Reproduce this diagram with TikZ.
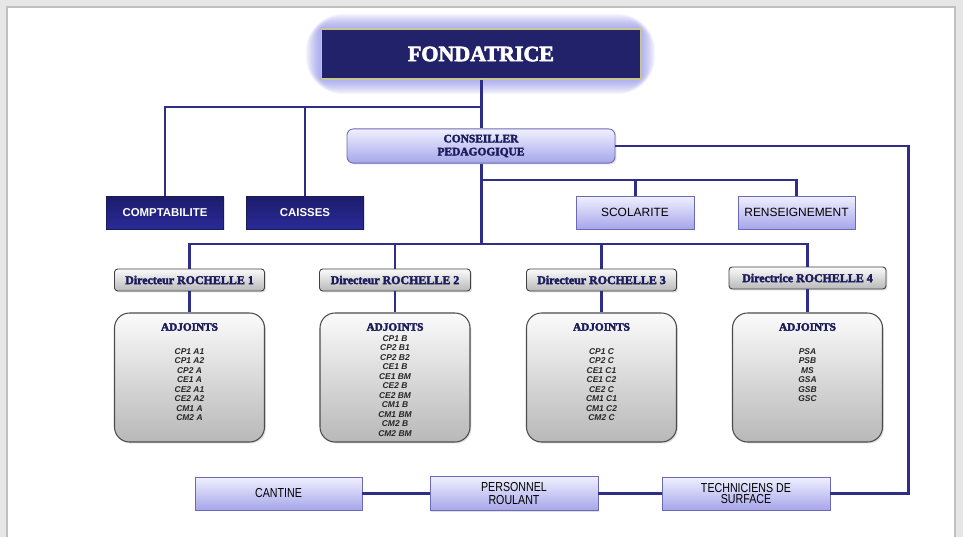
\documentclass[tikz,border=0pt]{standalone}
\usepackage{fontspec}
\setmainfont{Liberation Serif}
\setsansfont{Liberation Sans}
\newfontfamily\heavyfont{Liberation Serif}[FakeBold=3]
\newfontfamily\narrowfont{Liberation Sans}[FakeStretch=0.82]
\usetikzlibrary{positioning,shadows}

\definecolor{navy}{HTML}{22226A}
\definecolor{navytop}{HTML}{1C1C6C}
\definecolor{navybot}{HTML}{2A2A98}
\definecolor{rim}{HTML}{C8C890}
\definecolor{linkblue}{HTML}{2E2E88}
\definecolor{darktext}{HTML}{1C1C5C}
\definecolor{lavtop}{HTML}{F0F0FF}
\definecolor{lavbot}{HTML}{A6A6EA}
\definecolor{lavedge}{HTML}{6A6AB8}
\definecolor{graytop}{HTML}{FBFBFB}
\definecolor{graybot}{HTML}{B8B8B8}
\definecolor{glow}{HTML}{8A8AF0}
\definecolor{pagegray}{HTML}{E6E6E6}

\tikzset{
  link/.style={draw=linkblue, line width=1.7pt},
  shade/.style={drop shadow={shadow xshift=0.8pt, shadow yshift=-0.8pt, opacity=0.25}},
  navybox/.style={shade, draw=navy!80!black, top color=navytop, bottom color=navybot,
    text=white, minimum width=2.34cm, minimum height=0.66cm,
    font=\sffamily\bfseries\fontsize{6.5}{7.5}\selectfont},
  lavbox/.style={shade, draw=lavedge, line width=0.5pt, top color=lavtop, bottom color=lavbot,
    text=black, minimum width=2.36cm, minimum height=0.66cm, align=center,
    font=\sffamily\fontsize{6.8}{7.5}\selectfont},
  dirbox/.style={shade, draw=black!75, line width=0.5pt, rounded corners=1.8pt,
    top color=graytop, bottom color=graybot, text=darktext, minimum height=0.44cm,
    font=\heavyfont\bfseries\fontsize{6.8}{8}\selectfont},
  adjbox/.style={shade, draw=black!70, line width=0.6pt, rounded corners=8.5pt,
    top color=graytop, bottom color=graybot, minimum width=3cm, minimum height=2.58cm},
  adjhead/.style={text=darktext, font=\heavyfont\bfseries\fontsize{6.4}{7}\selectfont},
  items/.style={anchor=north, inner sep=0pt, align=center, text=black!85,
    font=\sffamily\bfseries\itshape\fontsize{4.8}{5.4}\selectfont}
}

\begin{document}
\begin{tikzpicture}[x=0.02cm, y=-0.02cm]

% page and background
\useasboundingbox (0,0) rectangle (963,537);
\fill[pagegray] (0,0) rectangle (963,537);
\fill[white] (7,7) rectangle (955,537);
\draw[black!25, line width=0.6pt] (7,537) -- (7,7) -- (955,7) -- (955,537);

% glow round the top box
\foreach \g in {1,...,22}
  \fill[glow, opacity=0.045, rounded corners=\g pt] (321-0.7*\g,29-0.7*\g) rectangle (640+0.7*\g,79+0.7*\g);
\node[draw=rim, line width=0.6pt, fill=navy, text=white, minimum width=6.38cm, minimum height=1cm,
  font=\heavyfont\bfseries\fontsize{12.5}{14}\selectfont] (fond) at (481,54) {FONDATRICE};

% second row
\node[navybox] (comp) at (165,212.5) {COMPTABILITE};
\node[navybox] (caisse) at (305,212.5) {CAISSES};
\node[lavbox, rounded corners=3.5pt, minimum width=5.36cm, minimum height=0.64cm, text=darktext,
  font=\heavyfont\bfseries\fontsize{6.5}{7.4}\selectfont] (cons) at (481,146) {CONSEILLER\\PEDAGOGIQUE};
\node[lavbox] (scol) at (635,212.5) {SCOLARITE};
\node[lavbox, minimum width=2.34cm] (rens) at (796.5,212.5) {RENSEIGNEMENT};

% schools
\foreach \n/\x/\y/\w/\t in {d1/189.5/280/3.0/Directeur ROCHELLE 1, d2/395/280/3.02/Directeur ROCHELLE 2,
    d3/601.5/280/3.0/Directeur ROCHELLE 3, d4/807.5/278/3.14/Directrice ROCHELLE 4}
  \node[dirbox, minimum width=\w cm] (\n) at (\x,\y) {\t};

\foreach \n/\x in {a1/189.5, a2/395, a3/601.5, a4/807.5} {
  \node[adjbox] (\n) at (\x,377.5) {};
  \node[adjhead] (\n h) at (\x,327) {ADJOINTS};
}
\node[items] (a1l) at (189.5,348) {CP1 A1\\CP1 A2\\CP2 A\\CE1 A\\CE2 A1\\CE2 A2\\CM1 A\\CM2 A};
\node[items] (a2l) at (395,335) {CP1 B\\CP2 B1\\CP2 B2\\CE1 B\\CE1 BM\\CE2 B\\CE2 BM\\CM1 B\\CM1 BM\\CM2 B\\CM2 BM};
\node[items] (a3l) at (601.5,348) {CP1 C\\CP2 C\\CE1 C1\\CE1 C2\\CE2 C\\CM1 C1\\CM1 C2\\CM2 C};
\node[items] (a4l) at (807.5,348) {PSA\\PSB\\MS\\GSA\\GSB\\GSC};

% bottom row
\node[lavbox, minimum width=3.34cm, font=\narrowfont\fontsize{7.4}{7.6}\selectfont] (cant) at (278.5,493.5) {CANTINE};
\node[lavbox, minimum width=3.36cm, font=\narrowfont\fontsize{7.4}{7.6}\selectfont] (pers) at (514,493.5) {PERSONNEL\\ROULANT};
\node[lavbox, minimum width=3.36cm, font=\narrowfont\fontsize{7.4}{6.4}\selectfont] (tech) at (746,493.5) {TECHNICIENS DE\\SURFACE};

% connectors
\coordinate (hubA) at (481,107);
\coordinate (hubB) at (481,180);
\coordinate (hubC) at (481,244);
\coordinate (edge) at (908,300);

\draw[link] (fond) -- (cons);
\draw[link] (hubA) -| (comp);
\draw[link] (hubA) -| (caisse);
\draw[link] (cons) -- (hubC);
\draw[link] (hubB) -| (scol);
\draw[link] (hubB) -| (rens);
\foreach \i in {1,...,4} {
  \draw[link] (hubC) -| (d\i);
  \draw[link] (d\i) -- (a\i);
}
\draw[link] (cons.east) -| (edge) |- (tech);
\draw[link] (cant) -- (pers);
\draw[link] (pers) -- (tech);

\end{tikzpicture}
\end{document}
